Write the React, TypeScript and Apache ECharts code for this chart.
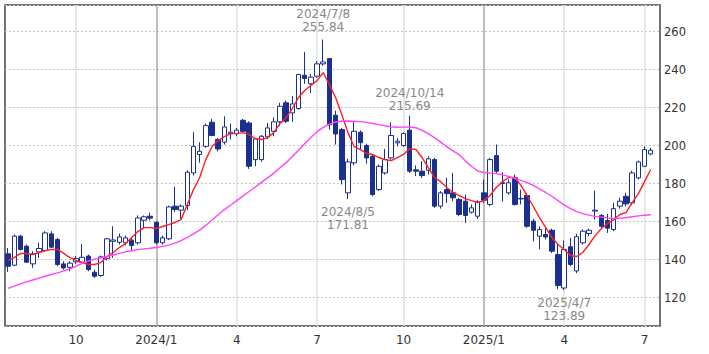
import React, { useEffect, useRef } from 'react';
import * as echarts from 'echarts';

// weekly candles, first week and number of category slots (last slot is empty)
const START_DATE = [2023, 7, 17];
const WEEK_SLOTS = 106;

const opens = [
  143.0, 137.0, 152.3, 147.0, 137.7, 144.0, 144.7, 153.5, 150.5, 137.7,
  135.9, 138.8, 138.6, 141.8, 133.3, 131.6, 140.4, 149.6, 149.1, 148.8,
  150.2, 148.8, 160.7, 162.8, 159.6, 148.8, 150.9, 168.1, 166.0, 168.4,
  185.6, 195.3, 199.6, 212.3, 203.2, 201.8, 206.3, 206.3, 213.3, 211.9,
  192.6, 192.6, 204.6, 207.5, 212.5, 222.5, 217.2, 219.5, 237.0, 232.5,
  236.5, 243.0, 245.8, 216.0, 208.4, 175.1, 190.9, 207.0, 200.0, 194.4,
  176.8, 185.6, 193.5, 201.4, 200.0, 208.1, 187.2, 186.5, 187.0, 192.6,
  168.1, 176.8, 175.1, 171.6, 170.7, 164.9, 162.8, 175.1, 169.0, 194.7,
  180.0, 175.1, 183.0, 172.2, 173.7, 160.2, 152.3, 153.2, 155.4, 142.6,
  125.0, 146.7, 134.0, 148.8, 153.7, 165.5, 163.2, 160.5, 155.8, 168.1,
  173.3, 169.8, 183.0, 189.1, 195.6,
];
const closes = [
  136.5, 152.3, 145.3, 138.6, 143.0, 145.8, 154.0, 146.5, 137.4, 135.6,
  138.1, 140.5, 141.2, 134.7, 131.2, 141.4, 150.9, 150.3, 151.9, 151.4,
  147.4, 161.9, 162.5, 161.8, 148.8, 151.4, 167.7, 166.3, 168.1, 186.0,
  199.6, 197.0, 210.5, 205.3, 198.2, 209.8, 207.0, 208.1, 207.5, 189.1,
  203.5, 204.9, 209.3, 212.5, 220.7, 212.8, 221.9, 237.4, 235.3, 236.0,
  243.0, 244.0, 211.0, 206.1, 182.1, 191.4, 207.5, 201.5, 193.5, 174.2,
  189.1, 192.6, 205.3, 202.3, 206.3, 186.5, 186.5, 184.2, 193.0, 168.1,
  175.1, 174.7, 172.5, 163.7, 163.2, 167.2, 170.2, 171.2, 192.6, 186.5,
  180.5, 180.4, 169.0, 171.9, 157.5, 155.4, 155.8, 151.9, 144.4, 126.3,
  145.3, 137.4, 152.0, 154.9, 155.4, 166.0, 157.5, 156.5, 166.8, 170.7,
  169.3, 185.6, 191.4, 197.9, 197.5,
];
const lows = [
  133.5, 136.5, 144.8, 138.2, 135.6, 140.9, 144.0, 146.1, 136.5, 134.7,
  133.8, 137.7, 138.2, 133.9, 130.4, 130.9, 139.6, 140.9, 147.9, 147.4,
  144.9, 147.9, 156.1, 160.7, 147.9, 147.9, 150.2, 164.9, 161.4, 166.0,
  184.2, 191.0, 198.8, 204.9, 197.0, 200.5, 203.2, 204.9, 207.0, 187.7,
  189.1, 191.5, 203.5, 204.9, 210.2, 211.9, 212.5, 218.9, 232.5, 227.7,
  235.6, 242.0, 208.4, 200.5, 179.5, 171.81, 189.6, 198.0, 190.5, 173.3,
  176.0, 184.7, 192.6, 199.6, 199.3, 185.6, 183.9, 183.0, 184.7, 167.2,
  166.8, 169.8, 170.7, 162.8, 159.3, 164.2, 161.4, 169.8, 168.1, 185.6,
  170.5, 174.2, 168.4, 169.0, 156.7, 149.6, 145.3, 150.5, 143.5, 124.5,
  123.89, 136.5, 132.8, 147.9, 152.3, 161.1, 156.3, 154.0, 154.9, 166.8,
  168.1, 168.6, 182.1, 188.6, 194.9,
];
const highs = [
  146.1, 153.2, 153.0, 147.9, 144.4, 148.8, 154.9, 154.9, 151.4, 139.1,
  139.1, 141.9, 148.2, 142.6, 134.7, 142.1, 151.4, 157.5, 153.7, 152.6,
  151.4, 163.2, 163.2, 164.6, 160.2, 152.6, 168.4, 178.2, 169.0, 187.0,
  207.0, 201.7, 211.6, 214.0, 204.0, 215.4, 211.6, 209.3, 214.0, 212.8,
  204.0, 205.5, 211.9, 214.9, 222.5, 223.7, 226.0, 237.7, 249.3, 237.7,
  244.4, 255.84, 246.0, 218.4, 209.3, 193.0, 212.8, 208.0, 201.0, 195.3,
  190.0, 198.2, 212.3, 204.0, 207.0, 215.69, 189.5, 191.8, 194.4, 193.5,
  176.0, 183.0, 185.6, 172.5, 174.2, 169.0, 171.2, 182.1, 193.5, 200.5,
  186.0, 182.1, 184.7, 176.8, 175.1, 161.4, 157.5, 157.0, 156.3, 148.0,
  150.0, 151.4, 153.5, 155.8, 156.3, 176.3, 164.0, 164.0, 169.8, 172.5,
  175.1, 186.8, 192.1, 199.6, 198.8,
];

// moving averages
const maShort = [
  139.5, 141.0, 143.2, 143.2, 142.6, 143.7, 144.7, 145.3, 145.3, 143.2,
  141.0, 139.5, 138.4, 137.4, 137.4, 138.4, 141.6, 143.7, 146.3, 148.4,
  151.6, 154.7, 156.8, 156.8, 156.3, 157.4, 158.4, 159.5, 161.0, 169.0,
  176.8, 183.2, 192.6, 199.5, 202.6, 204.7, 206.3, 206.3, 206.8, 205.8,
  203.7, 203.2, 204.2, 206.8, 211.6, 214.7, 219.5, 225.3, 229.0, 231.6,
  234.2, 238.4, 232.0, 225.3, 216.3, 206.8, 199.5, 197.9, 195.8, 195.3,
  193.7, 192.6, 192.1, 193.7, 195.3, 198.4, 197.9, 193.7, 188.4, 183.2,
  181.0, 177.9, 175.3, 173.7, 172.1, 171.0, 170.0, 171.0, 173.7, 177.9,
  181.0, 183.2, 183.2, 179.0, 173.7, 167.9, 162.1, 156.8, 151.6, 147.9,
  145.3, 142.1, 141.6, 143.7, 147.9, 152.6, 156.3, 158.9, 161.0, 163.7,
  164.7, 170.0, 174.7, 181.0, 187.4,
];
const maLong = [
  124.8, 126.0, 127.2, 128.2, 129.2, 130.2, 131.2, 132.1, 133.0, 134.0,
  135.0, 136.5, 138.0, 139.2, 140.2, 140.8, 141.6, 142.4, 143.2, 144.0,
  144.6, 145.2, 145.6, 145.9, 146.3, 146.9, 147.6, 148.6, 150.0, 151.6,
  153.5, 155.5, 158.0, 160.8, 163.6, 166.3, 168.6, 171.0, 173.4, 175.8,
  178.2, 180.6, 183.0, 185.5, 188.3, 191.0, 194.2, 197.5, 201.0, 204.2,
  207.3, 209.6, 211.3, 212.4, 212.8, 212.9, 212.8, 212.6, 212.2, 211.6,
  211.0, 210.4, 209.9, 209.6, 209.7, 209.8, 209.4, 208.0, 206.3, 204.2,
  201.8, 199.4, 197.2, 195.2, 192.0, 189.0, 186.6, 185.8, 185.5, 185.2,
  184.6, 183.7, 182.7, 181.7, 180.5, 179.0, 177.2, 175.3, 173.3, 171.0,
  168.8, 166.8, 165.2, 164.2, 163.4, 162.7, 162.3, 161.9, 161.6, 161.7,
  162.0, 162.5, 163.0, 163.3, 163.6,
];

// month tick labels: [week, label]
const tickLabels: [string, string][] = [
  ['2023/10/2', '10'],
  ['2024/1/1', '2024/1'],
  ['2024/4/1', '4'],
  ['2024/7/1', '7'],
  ['2024/10/7', '10'],
  ['2025/1/6', '2025/1'],
  ['2025/4/7', '4'],
  ['2025/7/7', '7'],
];
const yearTicks = ['2024/1/1', '2025/1/6'];

// highlighted highs / lows: [week, value, side, gap]
const notes: [string, number, 'top' | 'bottom', number][] = [
  ['2024/7/8', 255.84, 'top', 5],
  ['2024/8/5', 171.81, 'bottom', 6],
  ['2024/10/14', 215.69, 'top', 3],
  ['2025/4/7', 123.89, 'bottom', 6],
];

function buildWeeks(): string[] {
  const out: string[] = [];
  const d = new Date(START_DATE[0], START_DATE[1] - 1, START_DATE[2], 12);
  for (let i = 0; i < WEEK_SLOTS; i++) {
    out.push(`${d.getFullYear()}/${d.getMonth() + 1}/${d.getDate()}`);
    d.setDate(d.getDate() + 7);
  }
  return out;
}

const NAVY = '#1b2f8f';
const FONT = 'DejaVu Sans';

export default function App() {
  const ref = useRef<HTMLDivElement>(null);
  useEffect(() => {
    document.body.style.margin = '0';
    if (!ref.current) return;
    const chart = echarts.init(ref.current, undefined, { renderer: 'svg' });
    const weeks = buildWeeks();
    const labelMap: Record<string, string> = {};
    tickLabels.forEach(([d, t]) => (labelMap[d] = t));
    const candles = weeks.map((_, i) =>
      i < opens.length ? [opens[i], closes[i], lows[i], highs[i]] : ['-', '-', '-', '-']
    );
    chart.setOption({
      animation: false,
      grid: {
        left: 5,
        right: 49,
        top: 5,
        bottom: 28,
        show: true,
        borderColor: '#444',
        borderWidth: 1.5,
        backgroundColor: '#fff',
      },
      xAxis: {
        type: 'category',
        data: weeks,
        boundaryGap: true,
        axisLine: { show: false },
        axisTick: { show: false },
        splitLine: { show: false },
        axisLabel: {
          interval: (_: number, v: string) => labelMap[v] !== undefined,
          formatter: (v: string) => labelMap[v] ?? '',
          color: '#333',
          fontFamily: FONT,
          fontSize: 12,
          margin: 8,
        },
      },
      yAxis: {
        type: 'value',
        position: 'right',
        min: 105,
        max: 274,
        minInterval: 20,
        maxInterval: 20,
        splitNumber: 8,
        axisLine: { show: false },
        axisTick: { show: false },
        axisLabel: {
          formatter: (v: number) => (Math.abs(v % 20) < 1e-6 ? String(v) : ''),
          color: '#333',
          fontFamily: FONT,
          fontSize: 11.5,
          margin: 4,
          showMinLabel: false,
          showMaxLabel: false,
        },
        splitLine: { lineStyle: { color: '#c4c4c4', type: [2, 2], width: 1 } },
      },
      series: [
        {
          type: 'candlestick',
          data: candles,
          barWidth: 5,
          itemStyle: {
            color: '#fff',
            color0: NAVY,
            borderColor: NAVY,
            borderColor0: NAVY,
            borderWidth: 1,
          },
          markLine: {
            silent: true,
            symbol: ['none', 'none'],
            label: { show: false },
            animation: false,
            z: 1,
            data: tickLabels.map(([d]) => ({
              xAxis: d,
              lineStyle: {
                color: yearTicks.includes(d) ? '#a8a8a8' : '#e0e0e0',
                width: 1.5,
                type: 'solid',
              },
            })),
          },
          markPoint: {
            silent: true,
            animation: false,
            data: notes.map(([d, v, side, gap]) => ({
              coord: [d, v],
              symbol: 'circle',
              symbolSize: 1,
              itemStyle: { color: 'rgba(0,0,0,0)' },
              label: {
                show: true,
                position: side,
                distance: gap,
                formatter: `${d}\n${v.toFixed(2)}`,
                color: '#888',
                fontFamily: FONT,
                fontSize: 12,
                lineHeight: 13,
                align: 'center',
              },
            })),
          },
        },
        {
          type: 'line',
          data: maShort,
          symbol: 'none',
          lineStyle: { color: '#ff2020', width: 1.4 },
          z: 3,
        },
        {
          type: 'line',
          data: maLong,
          symbol: 'none',
          lineStyle: { color: '#ff44ff', width: 1.4 },
          z: 3,
        },
      ],
    });
    return () => chart.dispose();
  }, []);
  return <div ref={ref} style={{ width: 709, height: 354 }} />;
}
